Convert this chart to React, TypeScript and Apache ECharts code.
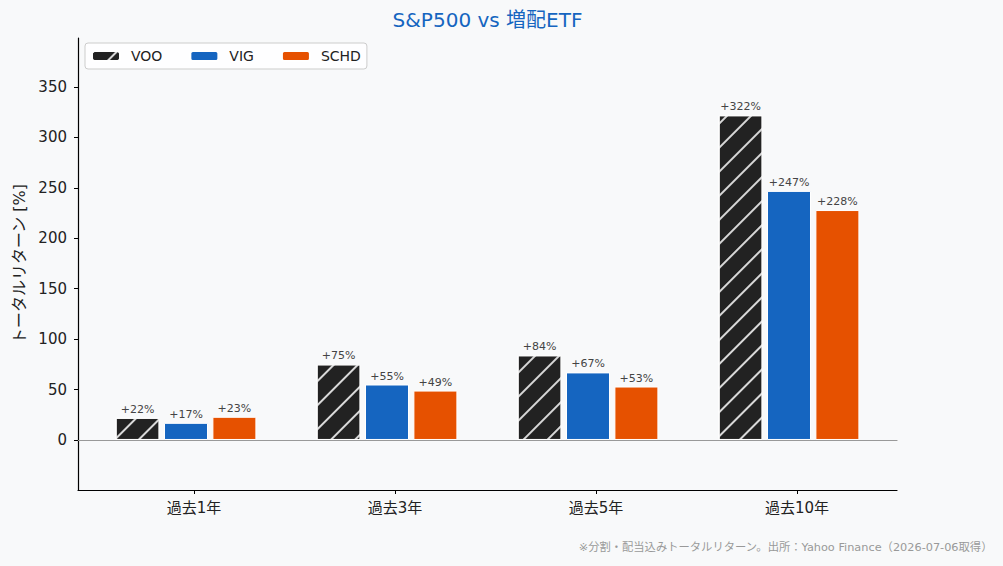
import React, { useEffect, useRef } from "react";
import * as echarts from "echarts";

const categories = ["過去1年", "過去3年", "過去5年", "過去10年"];
const seriesNames = ["VOO", "VIG", "SCHD"];
const vooValues = [22, 75, 84, 322];
const vigValues = [17, 55, 67, 247];
const schdValues = [23, 49, 53, 228];
const yTicks = [0, 50, 100, 150, 200, 250, 300, 350];
const colors = ["#222222", "#1565C0", "#E65100"];

const FONT = "'DejaVu Sans', 'Noto Sans CJK JP', sans-serif";
const Y_MIN = -49.6;
const Y_MAX = 398.6;

export default function App() {
  const ref = useRef<HTMLDivElement>(null);
  useEffect(() => {
    if (!ref.current) return;
    const chart = echarts.init(ref.current, undefined, { renderer: "svg" });
    const values = [vooValues, vigValues, schdValues];
    const series: any[] = seriesNames.map((name, i) => ({
      name,
      type: "bar",
      xAxisIndex: 2,
      yAxisIndex: 1,
      data: values[i],
      barWidth: 44,
      barGap: "10%",
      itemStyle: {
        color: colors[i],
        borderColor: "#ffffff",
        borderWidth: 1,
        ...(i === 0
          ? {
              decal: {
                symbol: "rect",
                symbolSize: 1,
                color: "rgba(225,225,225,0.95)",
                dashArrayX: [1, 0],
                dashArrayY: [1.5, 15],
                rotation: -Math.PI / 4,
              },
            }
          : {}),
      },
      label: {
        show: true,
        position: "top",
        distance: 3,
        fontSize: 11,
        fontFamily: FONT,
        color: "#444",
        formatter: (p: any) => "+" + p.value + "%",
      },
    }));
    chart.setOption({
      animation: false,
      backgroundColor: "#F8F9FA",
      textStyle: { fontFamily: FONT },
      title: {
        text: "S&P500 vs 増配ETF",
        left: 482.5,
        top: 5,
        textAlign: "center",
        textStyle: { fontSize: 20, fontWeight: "normal", color: "#1565C0", fontFamily: FONT },
      },
      legend: {
        data: seriesNames,
        left: 85,
        top: 43,
        itemWidth: 28,
        itemHeight: 10,
        itemGap: 27,
        padding: [6, 6, 6, 6],
        backgroundColor: "rgba(255,255,255,0.85)",
        borderColor: "#cccccc",
        borderWidth: 1,
        borderRadius: 3,
        textStyle: { fontSize: 14, color: "#222", fontFamily: FONT, padding: [0, 0, 0, 6] },
      },
      grid: [
        { left: 78, right: 106, top: 38, bottom: 76 },
        { left: 85.5, right: 113.5, top: 38, bottom: 76 },
        { left: 93.5, right: 105.5, top: 38, bottom: 76 },
      ],
      xAxis: [
        {
          type: "value",
          gridIndex: 0,
          min: 0,
          max: 1,
          position: "bottom",
          axisLine: { show: true, onZero: false, lineStyle: { color: "#000", width: 1.2 } },
          axisTick: { show: false },
          axisLabel: { show: false },
          splitLine: { show: false },
        },
        {
          type: "value",
          gridIndex: 0,
          min: 0,
          max: 1,
          position: "bottom",
          axisLine: { show: true, onZero: true, lineStyle: { color: "#999", width: 1.2 } },
          axisTick: { show: false },
          axisLabel: { show: false },
          splitLine: { show: false },
        },
        {
          type: "category",
          gridIndex: 1,
          data: categories,
          show: false,
          splitLine: { show: false },
        },
        {
          type: "category",
          gridIndex: 2,
          data: categories,
          position: "bottom",
          axisLine: { show: false, onZero: false },
          axisTick: { show: true, alignWithLabel: true, length: 4, lineStyle: { color: "#000" } },
          axisLabel: { fontSize: 15, color: "#222", margin: 10, fontFamily: FONT },
          splitLine: { show: false },
        },
      ],
      yAxis: [
        {
          type: "value",
          gridIndex: 0,
          min: Y_MIN,
          max: Y_MAX,
          name: "トータルリターン [%]",
          nameLocation: "middle",
          nameRotate: 90,
          nameGap: 51,
          nameTextStyle: { fontSize: 16, color: "#222", fontFamily: FONT },
          axisLine: { show: true, onZero: false, lineStyle: { color: "#000", width: 1.2 } },
          axisTick: { show: true, length: 4, lineStyle: { color: "#000" }, customValues: yTicks },
          axisLabel: { fontSize: 15, color: "#222", margin: 11, fontFamily: FONT, customValues: yTicks },
          splitLine: { show: false },
        },
        {
          type: "value",
          gridIndex: 1,
          min: Y_MIN,
          max: Y_MAX,
          show: false,
          splitLine: { show: false },
        },
        {
          type: "value",
          gridIndex: 2,
          min: Y_MIN,
          max: Y_MAX,
          show: false,
          splitLine: { show: false },
        },
      ],
      graphic: [
        {
          type: "text",
          right: 10,
          top: 542,
          style: {
            text: "※分割・配当込みトータルリターン。出所：Yahoo Finance（2026-07-06取得）",
            fontSize: 11.3,
            fill: "#999",
            fontFamily: FONT,
          },
        },
      ],
      series,
    });
    return () => chart.dispose();
  }, []);
  return (
    <div
      ref={ref}
      style={{ position: "fixed", left: 0, top: 0, width: 1003, height: 566, background: "#F8F9FA" }}
    />
  );
}
